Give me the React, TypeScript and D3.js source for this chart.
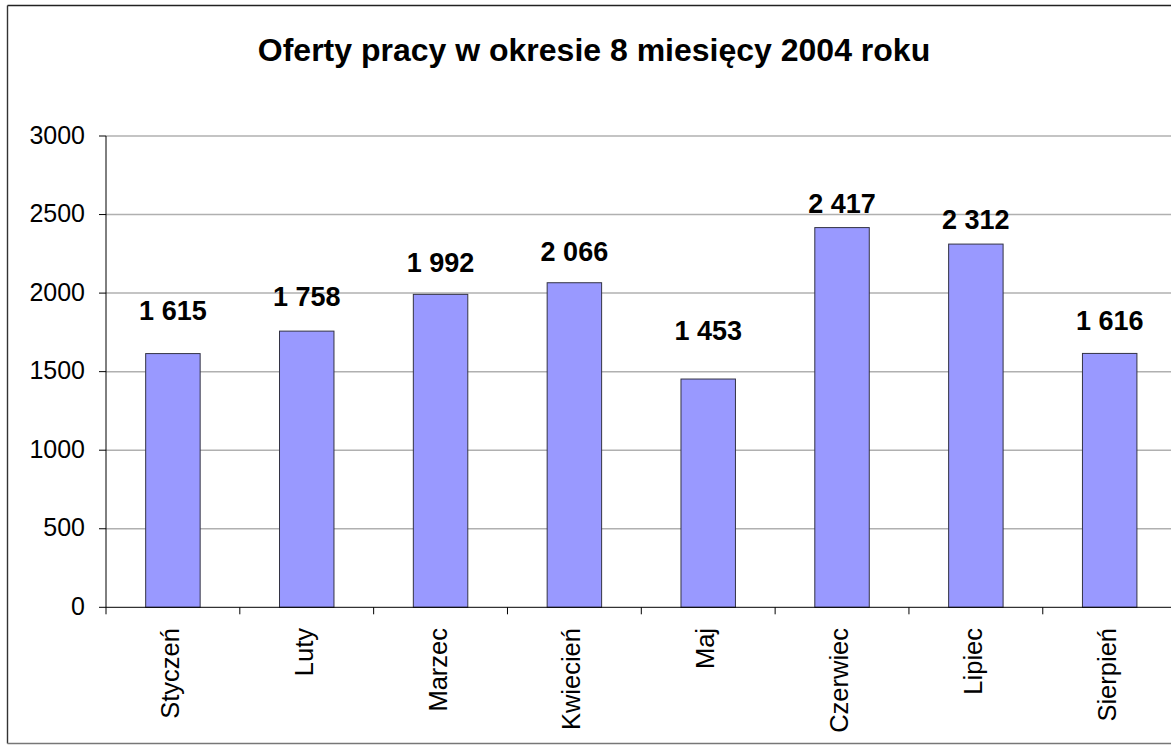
import React from "react";
import * as d3 from "d3";

const months = ["Styczeń", "Luty", "Marzec", "Kwiecień", "Maj", "Czerwiec", "Lipiec", "Sierpień"];
const offers = [1615, 1758, 1992, 2066, 1453, 2417, 2312, 1616];
const yTicks = [0, 500, 1000, 1500, 2000, 2500, 3000];
const title = "Oferty pracy w okresie 8 miesięcy 2004 roku";

// layout: per-label lift (px) of value labels above bar tops, as placed in the original
const labelLift = [34, 25, 22, 22, 39, 15, 15, 23];

const W = 1171;
const H = 745;
const left = 106;
const right = 1176.6;
const top = 136;
const bottom = 607.3;
const FONT = "Liberation Sans, Arial, sans-serif";

function fmt(v: number) {
  return d3.format(",")(v).replace(/,/g, " ");
}

export default function App() {
  const x = d3.scaleBand<string>().domain(months).range([left, right]).paddingInner(0).paddingOuter(0);
  const y = d3.scaleLinear().domain([0, 3000]).range([bottom, top]);
  const bw = x.bandwidth() * 0.407;

  return (
    <svg width={W} height={H} style={{ position: "absolute", left: 0, top: 0, background: "#fff" }} fontFamily={FONT}>
      <rect x={0} y={0} width={W} height={H} fill="#fff" />
      {/* chart border */}
      <line x1={7.5} y1={5.5} x2={W} y2={5.5} stroke="#222" strokeWidth={1.6} />
      <line x1={7.5} y1={5.5} x2={7.5} y2={743.5} stroke="#333" strokeWidth={1.4} />
      <line x1={7.5} y1={743.5} x2={W} y2={743.5} stroke="#777" strokeWidth={1.4} />

      <text x={594} y={61} textAnchor="middle" fontSize={32} fontWeight="bold" fill="#000">
        {title}
      </text>

      {/* gridlines */}
      {yTicks.filter((t) => t > 0).map((t) => (
        <line key={t} x1={left} x2={W} y1={y(t)} y2={y(t)} stroke="#b0b0b0" strokeWidth={1.5} />
      ))}

      {/* bars */}
      {months.map((m, i) => (
        <rect
          key={m}
          x={(x(m) as number) + (x.bandwidth() - bw) / 2}
          y={y(offers[i])}
          width={bw}
          height={bottom - y(offers[i])}
          fill="#9999ff"
          stroke="#333344"
          strokeWidth={1}
        />
      ))}

      {/* y axis */}
      <line x1={left} x2={left} y1={top} y2={bottom} stroke="#000" strokeWidth={1} />
      {yTicks.map((t) => (
        <g key={t}>
          <line x1={left - 7} x2={left} y1={y(t)} y2={y(t)} stroke="#000" strokeWidth={1} />
          <text x={85} y={y(t)} dy="0.3em" textAnchor="end" fontSize={25} fill="#000">
            {t}
          </text>
        </g>
      ))}

      {/* x axis */}
      <line x1={left} x2={W} y1={bottom} y2={bottom} stroke="#000" strokeWidth={1} />
      {months.map((m) => (
        <line key={m} x1={x(m) as number} x2={x(m) as number} y1={bottom} y2={bottom + 7} stroke="#000" strokeWidth={1} />
      ))}
      {months.map((m) => {
        const cx = (x(m) as number) + x.bandwidth() / 2;
        return (
          <text
            key={m}
            transform={`translate(${cx + 6},628) rotate(-90)`}
            textAnchor="end"
            fontSize={25.5}
            fill="#000"
          >
            {m}
          </text>
        );
      })}

      {/* value labels */}
      {months.map((m, i) => (
        <text
          key={m}
          x={(x(m) as number) + x.bandwidth() / 2}
          y={y(offers[i]) - labelLift[i]}
          textAnchor="middle"
          fontSize={27}
          fontWeight="bold"
          fill="#000"
        >
          {fmt(offers[i])}
        </text>
      ))}
    </svg>
  );
}
